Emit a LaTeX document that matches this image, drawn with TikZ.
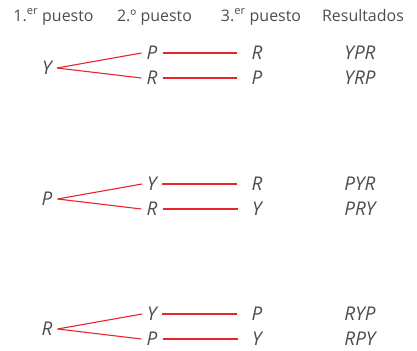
\documentclass[tikz,border=0pt]{standalone}
\usepackage{fontspec}
\setmainfont{Open Sans}
\usepackage{tikz}
\usetikzlibrary{positioning}
\usepackage{xcolor}
\definecolor{inkgray}{HTML}{4D4D4D}
\definecolor{branchred}{HTML}{E8242C}

\begin{document}
\begin{tikzpicture}[x=1bp, y=-1bp,
    heading/.style={text=inkgray, font=\fontsize{16}{18}\selectfont, inner sep=0pt, anchor=base},
    letter/.style={text=inkgray, font=\fontsize{19}{21}\selectfont\itshape, inner xsep=5bp, inner ysep=1bp},
    result/.style={text=inkgray, font=\fontsize{19}{21}\selectfont\itshape, inner sep=0pt},
    branch/.style={draw=branchred, line width=1.1bp}]
    \useasboundingbox (0,0) rectangle (417,351);
    % column headings
    \node[heading] (first) at (53.5,21) {1.\textsuperscript{er} puesto};
    \node[heading] (second) at (154.5,21) {2.º puesto};
    \node[heading] (third) at (261,21) {3.\textsuperscript{er} puesto};
    \node[heading] (results) at (363,21) {Resultados};
    % one tree per first place
    \foreach \g/\yy/\a/\b/\c/\ra/\rb in {1/0/Y/P/R/YPR/YRP, 2/131/P/Y/R/PYR/PRY, 3/261/R/Y/P/RYP/RPY}
    {
        \node[letter] (root\g) at (47,68+\yy) {\a};
        \node[letter] (up\g) at (152,53+\yy) {\b};
        \node[letter] (down\g) at (152,78+\yy) {\c};
        \node[letter] (upend\g) at (257,53+\yy) {\c};
        \node[letter] (downend\g) at (257,78+\yy) {\b};
        \node[result] (resup\g) at (360,53+\yy) {\ra};
        \node[result] (resdown\g) at (360,78+\yy) {\rb};
        \draw[branch] (root\g.east) -- (up\g.west);
        \draw[branch] (root\g.east) -- (down\g.west);
        \draw[branch, shorten >=9bp] (up\g.east) -- (upend\g.west);
        \draw[branch, shorten >=9bp] (down\g.east) -- (downend\g.west);
    }
\end{tikzpicture}
\end{document}
